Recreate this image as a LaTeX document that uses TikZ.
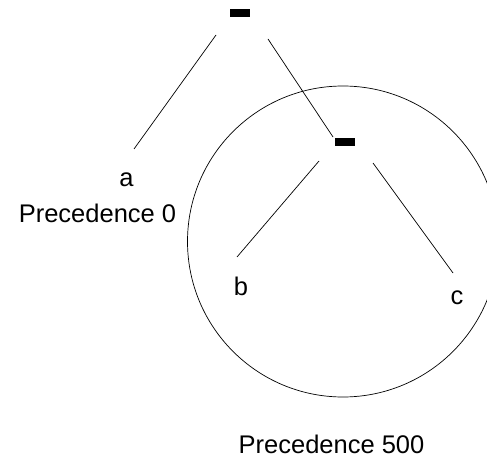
\documentclass[tikz,border=0pt]{standalone}
\usepackage{fontspec}
\setmainfont{Liberation Sans}
\usetikzlibrary{calc}
\definecolor{treeInk}{RGB}{0,0,0}
\newcommand{\LabelFont}{\fontsize{25.5bp}{30bp}\selectfont}
\tikzset{
  opbar/.style={rectangle,fill=treeInk,draw=none,inner sep=0pt,minimum width=20bp,minimum height=8bp},
  leaf/.style={anchor=base,inner sep=0pt,font=\LabelFont,text=treeInk},
  edge/.style={draw=treeInk,line width=0.7bp},
}

\begin{document}
\begin{tikzpicture}[x=1bp,y=-1bp]
  \clip (0,0) rectangle (487,460);
  % operator nodes
  \node[opbar] (root) at (240,13) {};
  \node[opbar] (sub) at (345,142) {};
  % operands and labels
  \node[leaf] (a) at (126.5,187) {a};
  \node[leaf] (precA) at (97.5,223) {Precedence 0};
  \node[leaf] (b) at (241,295) {b};
  \node[leaf] (c) at (457,304) {c};
  \node[leaf] (precB) at (331.5,453) {Precedence 500};
  % subexpression region
  \node[circle,draw=treeInk,line width=0.7bp,minimum size=311bp,inner sep=0pt] (region) at (343,241.5) {};
  % edges
  \draw[edge] ([shift={(-24,22)}]root.center) -- ([shift={(7.5,-38)}]a.base);
  \draw[edge] ([shift={(28,26)}]root.center) -- ([shift={(-12,-5)}]sub.center);
  \draw[edge] ([shift={(-26,19)}]sub.center) -- ([shift={(-4,-38)}]b.base);
  \draw[edge] ([shift={(28,21)}]sub.center) -- ([shift={(-4,-31)}]c.base);
\end{tikzpicture}
\end{document}
